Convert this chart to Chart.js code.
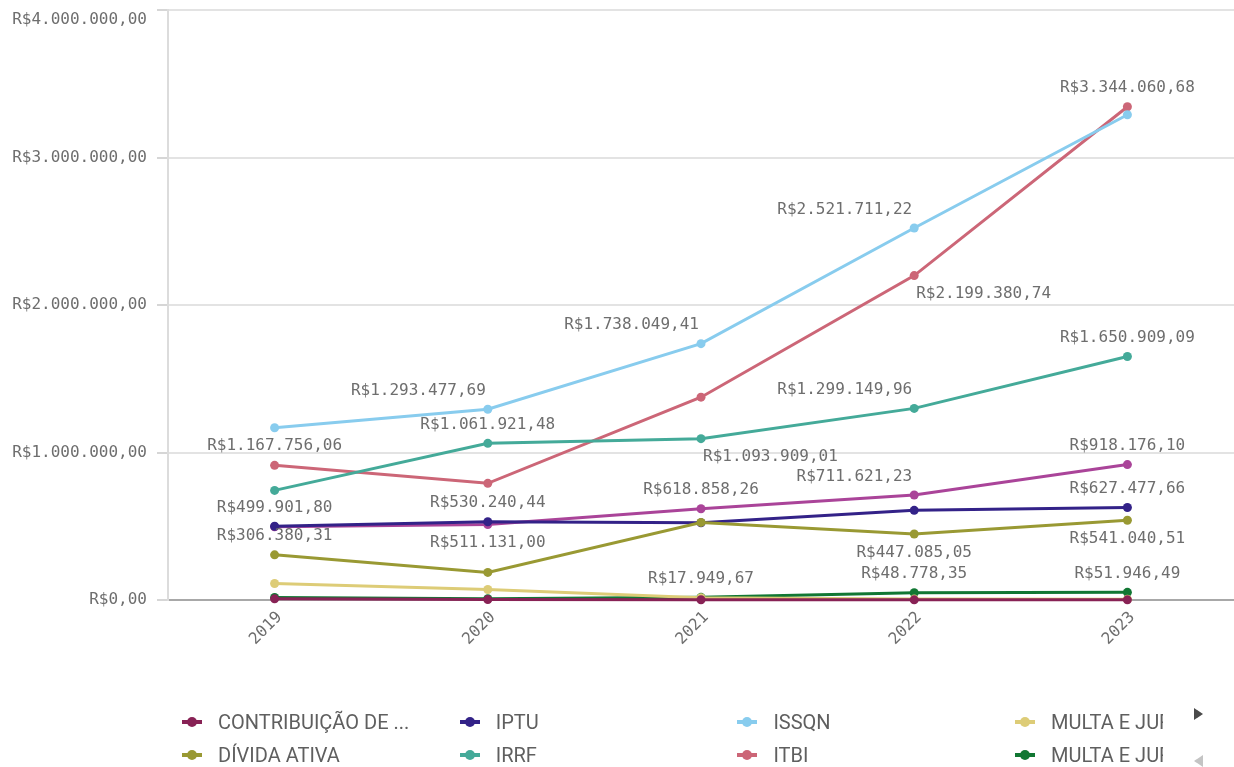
<!DOCTYPE html>
<html>
<head>
<meta charset="utf-8">
<script src="https://cdn.jsdelivr.net/npm/chart.js@4.4.1/dist/chart.umd.min.js"></script>
<style>
  html, body { margin: 0; padding: 0; background: #ffffff; }
  #wrap { position: relative; width: 1234px; height: 767px; overflow: hidden; }
  #c { position: absolute; left: 0; top: 0; }
  #legend { position: absolute; left: 176px; top: 700px; width: 987px; height: 67px; overflow: hidden;
    font-family: "Roboto", "Liberation Sans Narrow", "DejaVu Sans Condensed", sans-serif; font-size: 20px; letter-spacing: 0px; color: #5f5f5f; }
  .item { position: absolute; white-space: nowrap; height: 24px; line-height: 24px; }
  .mk { position: absolute; left: 0; top: 0; width: 22px; height: 24px; }
  .mk .ln { position: absolute; left: 6px; top: 10px; width: 20px; height: 4px; }
  .mk .dt { position: absolute; left: 11px; top: 7px; width: 10px; height: 10px; border-radius: 50%; }
  .tx { position: absolute; left: 42px; top: 0; }
  #arrR { position: absolute; left: 1194px; top: 708px; width: 0; height: 0;
    border-top: 6.5px solid transparent; border-bottom: 6.5px solid transparent; border-left: 9px solid #4a4a4a; }
  #arrL { position: absolute; left: 1194px; top: 755px; width: 0; height: 0;
    border-top: 6.5px solid transparent; border-bottom: 6.5px solid transparent; border-right: 9px solid #c4c4c4; }
</style>
</head>
<body>
<div id="wrap">
  <canvas id="c" width="1234" height="767"></canvas>
  <div id="legend"></div>
  <div id="arrR"></div>
  <div id="arrL"></div>
</div>
<script>
// ---------- DATA ----------
const categories = ['2019', '2020', '2021', '2022', '2023'];
const yTickValues = [0, 1000000, 2000000, 3000000, 4000000];

const seriesNames = [
  'CONTRIBUIÇÃO DE ...',
  'DÍVIDA ATIVA',
  'IPTU',
  'IRRF',
  'ISSQN',
  'ITBI',
  'MULTA E JUROS DA DÍVIDA ATIVA',
  'MULTA E JUROS DE MORA',
  'TAXAS'
];

const contribuicao = [8000, 3000, 1500, 1000, 1000];
const dividaAtiva  = [306380.31, 187000, 526000, 447085.05, 541040.51];
const iptu         = [499901.80, 530240.44, 524000, 608000, 627477.66];
const irrf         = [743000, 1061921.48, 1093909.01, 1299149.96, 1650909.09];
const issqn        = [1167756.06, 1293477.69, 1738049.41, 2521711.22, 3290000];
const itbi         = [913000, 791000, 1375000, 2199380.74, 3344060.68];
const multaJurosA  = [112000, 71000, 15000, 6000, 5000];
const multaJurosB  = [17000, 9000, 17949.67, 48778.35, 51946.49];
const taxas        = [496000, 511131.00, 618858.26, 711621.23, 918176.10];

const seriesValues = [contribuicao, dividaAtiva, iptu, irrf, issqn, itbi, multaJurosA, multaJurosB, taxas];

// ---------- STYLE ----------
const seriesColors = ['#882255', '#999933', '#332288', '#44aa99', '#88ccee', '#cc6677', '#ddcc77', '#117733', '#aa4499'];
const legendCount = 8;

// value-label placement: T = above, B = below, TL = above ending at point, BR = below starting at point
const labelPlacement = [
  [null, null, null, null, null],
  ['T', null, null, 'B', 'B'],
  ['T', 'T', null, null, 'T'],
  [null, 'T', 'BR', 'TL', 'T'],
  ['B', 'TL', 'TL', 'TL', null],
  [null, null, null, 'BR', 'T'],
  [null, null, null, null, null],
  [null, null, 'T', 'T', 'T'],
  [null, 'B', 'T', 'TL', 'T']
];

const MONO = '"DejaVu Sans Mono", "Liberation Mono", monospace';
const TEXT_COLOR = '#6e6e6e';

function brl(v) {
  const neg = v < 0;
  v = Math.abs(v);
  const fixed = v.toFixed(2);
  let [ip, dp] = fixed.split('.');
  ip = ip.replace(/\B(?=(\d{3})+(?!\d))/g, '.');
  return (neg ? '-' : '') + 'R$' + ip + ',' + dp;
}

const datasets = seriesValues.map((vals, i) => ({
  label: seriesNames[i],
  data: vals,
  borderColor: seriesColors[i],
  backgroundColor: seriesColors[i],
  pointBackgroundColor: seriesColors[i],
  pointBorderColor: seriesColors[i],
  borderWidth: 3,
  pointRadius: 4.5,
  pointBorderWidth: 0,
  tension: 0,
  fill: false,
  clip: 8
}));

const valueLabels = {
  id: 'valueLabels',
  afterDatasetsDraw(chart) {
    const ctx = chart.ctx;
    ctx.save();
    ctx.font = '16px ' + MONO;
    ctx.fillStyle = TEXT_COLOR;
    ctx.textBaseline = 'middle';
    chart.data.datasets.forEach((ds, i) => {
      const meta = chart.getDatasetMeta(i);
      meta.data.forEach((pt, j) => {
        const p = labelPlacement[i] && labelPlacement[i][j];
        if (!p) return;
        const txt = brl(ds.data[j]);
        let y = p[0] === 'T' ? pt.y - 18.5 : pt.y + 18.5;
        let align = 'center', x = pt.x;
        if (p === 'TL') { align = 'right'; x = pt.x - 2; }
        if (p === 'BR') { align = 'left'; x = pt.x + 2; }
        ctx.textAlign = align;
        ctx.fillText(txt, x, y);
      });
    });
    ctx.restore();
  }
};

const topTickLabel = {
  id: 'topTickLabel',
  afterDraw(chart) {
    const s = chart.scales.y;
    const ctx = chart.ctx;
    const maxV = yTickValues[yTickValues.length - 1];
    ctx.save();
    ctx.font = '16px ' + MONO;
    ctx.fillStyle = TEXT_COLOR;
    ctx.textAlign = 'right';
    ctx.textBaseline = 'middle';
    ctx.fillText(brl(maxV), s.right - 11 - 10, s.getPixelForValue(maxV) + 10);
    ctx.restore();
  }
};

new Chart(document.getElementById('c'), {
  type: 'line',
  data: { labels: categories, datasets },
  options: {
    responsive: false,
    devicePixelRatio: 1,
    animation: false,
    events: [],
    layout: { autoPadding: false, padding: { top: 10, right: 0, left: 0, bottom: 0 } },
    plugins: { legend: { display: false }, tooltip: { enabled: false } },
    scales: {
      x: {
        type: 'category',
        offset: true,
        grid: { display: false },
        border: { display: true, color: '#a8a8a8', width: 2 },
        ticks: {
          minRotation: 45, maxRotation: 45, padding: 0, labelOffset: 5,
          color: TEXT_COLOR,
          font: { family: MONO, size: 16 }
        },
        afterFit(scale) {
          scale.height = 167;
          scale.paddingLeft = 0; scale.paddingRight = 0;
        }
      },
      y: {
        min: yTickValues[0],
        max: yTickValues[yTickValues.length - 1],
        afterBuildTicks(scale) { scale.ticks = yTickValues.map(v => ({ value: v })); },
        grid: { color: '#e3e3e3', lineWidth: 2, tickLength: 11, tickColor: '#d6d6d6' },
        border: { display: true, color: '#dcdcdc', width: 2 },
        ticks: {
          padding: 10,
          color: (c) => (c.tick && c.tick.value === yTickValues[yTickValues.length - 1]) ? 'rgba(0,0,0,0)' : TEXT_COLOR,
          font: { family: MONO, size: 16 },
          callback: (v) => brl(v)
        },
        afterFit(scale) {
          scale.width = 168;
          scale.paddingTop = 0; scale.paddingBottom = 0;
        }
      }
    }
  },
  plugins: [valueLabels, topTickLabel]
});

// ---------- HTML legend ----------
const legend = document.getElementById('legend');
for (let i = 0; i < legendCount; i++) {
  const col = Math.floor(i / 2), row = i % 2;
  const it = document.createElement('div');
  it.className = 'item';
  it.style.left = (col * 277.7) + 'px';
  it.style.top = (10 + row * 33) + 'px';
  it.innerHTML = '<div class="mk"><div class="ln" style="background:' + seriesColors[i] + '"></div>' +
    '<div class="dt" style="background:' + seriesColors[i] + '"></div></div>';
  const tx = document.createElement('span');
  tx.className = 'tx';
  tx.textContent = seriesNames[i];
  it.appendChild(tx);
  legend.appendChild(it);
}
</script>
</body>
</html>
